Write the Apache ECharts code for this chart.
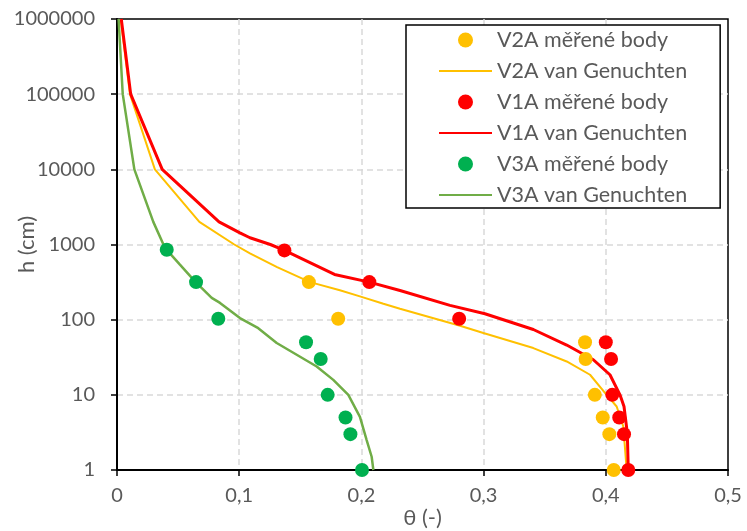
<!DOCTYPE html>
<html>
<head>
<meta charset="utf-8">
<script src="https://cdn.jsdelivr.net/npm/echarts@6/dist/echarts.min.js"></script>
<style>
	html, body { margin: 0; padding: 0; background: #fff; }
	#chart { width: 747px; height: 531px; }
</style>
</head>
<body>
<div id="chart"></div>
<script>
	// measured points [theta, h]
	var v2aPoints = [[0.4065, 1], [0.4029, 3], [0.3975, 5], [0.391, 10], [0.3835, 30], [0.383, 50], [0.181, 103], [0.157, 316]];
	var v1aPoints = [[0.4184, 1], [0.4149, 3], [0.411, 5], [0.4053, 10], [0.4043, 30], [0.400, 50], [0.280, 103], [0.2065, 316], [0.137, 835]];
	var v3aPoints = [[0.2005, 1], [0.191, 3], [0.187, 5], [0.1724, 10], [0.1667, 30], [0.1547, 50], [0.0829, 103], [0.0647, 316], [0.0407, 850]];

	// van Genuchten curves [theta, h]
	var v2aCurve = [[0.003, 1000000], [0.0106, 100000], [0.031, 10000], [0.0674, 2000], [0.096, 1000], [0.1088, 760], [0.131, 500],
		[0.158, 316], [0.1824, 246], [0.1988, 204], [0.218, 163], [0.2316, 140], [0.2807, 83], [0.2998, 66.4], [0.3407, 41.9],
		[0.368, 27.8], [0.3871, 18.5], [0.4007, 10], [0.4089, 7], [0.4143, 3.8], [0.4171, 1]];
	var v1aCurve = [[0.0035, 1000000], [0.0112, 100000], [0.037, 10000], [0.0835, 2000], [0.1006, 1430], [0.1088, 1230], [0.1255, 1000],
		[0.137, 835], [0.178, 400], [0.2065, 316], [0.2316, 244], [0.2725, 155], [0.3011, 120], [0.3407, 74], [0.368, 46],
		[0.3898, 29.3], [0.4034, 18.5], [0.4116, 10], [0.4149, 7], [0.4176, 3.1], [0.4184, 1]];
	var v3aCurve = [[0.0013, 1000000], [0.0047, 100000], [0.0142, 10000], [0.0297, 2000], [0.038, 1000], [0.0407, 850], [0.0515, 540],
		[0.0638, 324], [0.0775, 195], [0.0843, 167], [0.1006, 105], [0.1156, 77], [0.1307, 49], [0.1634, 23.8], [0.177, 15.8],
		[0.1893, 10], [0.1988, 5.1], [0.2043, 2.5], [0.2084, 1.5], [0.2098, 1]];

	var names = ['V2A měřené body', 'V2A van Genuchten', 'V1A měřené body', 'V1A van Genuchten', 'V3A měřené body', 'V3A van Genuchten'];

	var font = 'Lato, "Liberation Sans", sans-serif';
	var textColor = '#595959';

	var legendData = names.map(function (n, i) {
		// line entries: hide the symbol, keep only the line
		return i % 2 ? {name: n, itemStyle: {opacity: 0}} : {name: n};
	});

	var chart = echarts.init(document.getElementById('chart'));
	chart.setOption({
		animation: false,
		grid: {
			left: 117,
			right: 19,
			top: 19,
			bottom: 61,
			outerBoundsMode: 'none',
			containLabel: false,
			show: true,
			borderColor: '#000',
			borderWidth: 1.5
		},
		legend: {
			orient: 'vertical',
			left: 406,
			top: 25,
			data: legendData,
			itemWidth: 53,
			itemHeight: 15,
			itemGap: 9,
			padding: [4, 33, 2, 32],
			backgroundColor: '#fff',
			borderColor: '#000',
			borderWidth: 1.5,
			textStyle: {
				fontFamily: font,
				fontSize: 21.5,
				lineHeight: 20,
				color: textColor
			}
		},
		xAxis: {
			type: 'value',
			min: 0,
			max: 0.5,
			interval: 0.1,
			name: 'θ (-)',
			nameLocation: 'middle',
			nameGap: 37,
			nameMoveOverlap: false,
			nameTextStyle: {fontFamily: font, fontSize: 22, color: textColor},
			axisLine: {onZero: false, lineStyle: {color: '#000', width: 2}},
			axisTick: {show: true, length: 6, lineStyle: {color: '#000', width: 1.5}},
			axisLabel: {
				margin: 16,
				fontFamily: font,
				fontSize: 20,
				color: textColor,
				formatter: function (v) {
					return v === 0 ? '0' : v.toFixed(1).replace('.', ',');
				}
			},
			splitLine: {show: true, showMinLine: false, showMaxLine: false, lineStyle: {color: '#d9d9d9', width: 1.5, type: [6, 4]}}
		},
		yAxis: {
			type: 'log',
			logBase: 10,
			min: 1,
			max: 1000000,
			name: 'h (cm)',
			nameLocation: 'middle',
			nameGap: 79,
			nameMoveOverlap: false,
			nameTextStyle: {fontFamily: font, fontSize: 22, color: textColor},
			axisLine: {lineStyle: {color: '#000', width: 2}},
			axisTick: {show: true, length: 6, lineStyle: {color: '#000', width: 1.5}},
			axisLabel: {
				margin: 22,
				fontFamily: font,
				fontSize: 20,
				color: textColor,
				formatter: function (v) {
					return String(Math.round(v));
				}
			},
			splitLine: {show: true, showMinLine: false, showMaxLine: false, lineStyle: {color: '#d9d9d9', width: 1.5, type: [6, 4]}}
		},
		series: [
			{
				name: names[0],
				type: 'scatter',
				symbol: 'circle',
				symbolSize: 14,
				itemStyle: {color: '#FFC000', opacity: 1},
				z: 3,
				data: v2aPoints
			},
			{
				name: names[1],
				type: 'line',
				symbol: 'none',
				lineStyle: {color: '#FFC000', width: 2},
				itemStyle: {color: '#FFC000'},
				z: 2,
				data: v2aCurve
			},
			{
				name: names[2],
				type: 'scatter',
				symbol: 'circle',
				symbolSize: 14,
				itemStyle: {color: '#FF0000', opacity: 1},
				z: 3,
				data: v1aPoints
			},
			{
				name: names[3],
				type: 'line',
				symbol: 'none',
				lineStyle: {color: '#FF0000', width: 3},
				itemStyle: {color: '#FF0000'},
				z: 2,
				data: v1aCurve
			},
			{
				name: names[4],
				type: 'scatter',
				symbol: 'circle',
				symbolSize: 14,
				itemStyle: {color: '#00B050', opacity: 1},
				z: 3,
				data: v3aPoints
			},
			{
				name: names[5],
				type: 'line',
				symbol: 'none',
				lineStyle: {color: '#70AD47', width: 2.5},
				itemStyle: {color: '#70AD47'},
				z: 2,
				data: v3aCurve
			}
		]
	});
</script>
</body>
</html>
